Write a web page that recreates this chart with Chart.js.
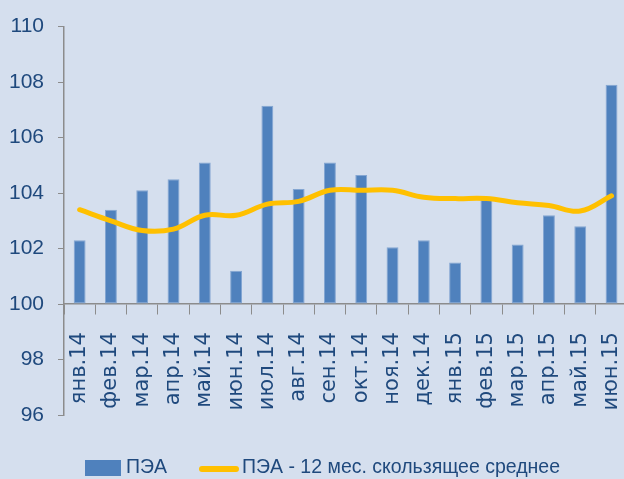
<!DOCTYPE html>
<html lang="ru">
<head>
    <meta charset="UTF-8">
    <title>ПЭА</title>
    <style>
        body {
            margin: 0;
            background: #d5dfee;
            overflow: hidden;
            font-family: "Liberation Sans", Arial, sans-serif;
            color: #1f497d;
        }
        #wrap {
            position: relative;
            width: 637px;
            height: 479px;
        }
        .legend {
            position: absolute;
            top: 455px;
            left: 0;
            font-size: 19.5px;
            white-space: nowrap;
        }
        .legend span { position: absolute; }
        .sw-bar { left: 85px; top: 5px; width: 36px; height: 16px; background: #4f81bd; }
        .sw-line { left: 199px; top: 11px; width: 40px; height: 6px; border-radius: 3px; background: #ffc000; }
        .t1 { left: 126px; top: 0; }
        .t2 { left: 242px; top: 0; }
    </style>
    <script src="https://cdn.jsdelivr.net/npm/chart.js"></script>
</head>
<body>
    <div id="wrap">
        <canvas id="chart" width="637" height="479"></canvas>
        <div class="legend">
            <span class="sw-bar"></span><span class="t1">ПЭА</span>
            <span class="sw-line"></span><span class="t2">ПЭА - 12 мес. скользящее среднее</span>
        </div>
    </div>

    <script>
        // months
        const months = ['янв.14', 'фев.14', 'мар.14', 'апр.14', 'май.14', 'июн.14',
            'июл.14', 'авг.14', 'сен.14', 'окт.14', 'ноя.14', 'дек.14',
            'янв.15', 'фев.15', 'мар.15', 'апр.15', 'май.15', 'июн.15'];

        // monthly index
        const pea = [102.3, 103.4, 104.1, 104.5, 105.1, 101.2,
            107.15, 104.15, 105.1, 104.65, 102.05, 102.3,
            101.5, 103.75, 102.15, 103.2, 102.8, 107.9];

        // 12-month moving average
        const peaAvg = [103.4, 103.0, 102.65, 102.7, 103.2, 103.2,
            103.6, 103.7, 104.1, 104.1, 104.1, 103.85,
            103.8, 103.8, 103.65, 103.55, 103.35, 103.9];

        const yTicks = [96, 98, 100, 102, 104, 106, 108, 110];

        const textColor = '#1f497d';
        const axisColor = '#8c8c8c';

        const ctx = document.getElementById('chart').getContext('2d');
        new Chart(ctx, {
            data: {
                labels: months,
                datasets: [{
                    type: 'line',
                    label: 'ПЭА - 12 мес. скользящее среднее',
                    data: peaAvg,
                    borderColor: '#ffc000',
                    borderWidth: 5,
                    borderCapStyle: 'round',
                    pointRadius: 0,
                    tension: 0.4,
                    order: 0
                }, {
                    type: 'bar',
                    label: 'ПЭА',
                    data: pea,
                    base: 100,
                    backgroundColor: '#4f81bd',
                    borderColor: '#84a6d2',
                    borderWidth: 1,
                    borderSkipped: false,
                    categoryPercentage: 1,
                    barPercentage: 0.38,
                    order: 1
                }]
            },
            options: {
                responsive: false,
                animation: false,
                layout: { autoPadding: false, padding: { top: 24, bottom: 64, left: 0, right: 3 } },
                plugins: {
                    legend: { display: false },
                    tooltip: { enabled: false }
                },
                scales: {
                    // axis line and tick marks at 100
                    x: {
                        position: { y: 100 },
                        offset: true,
                        grid: {
                            offset: true,
                            drawOnChartArea: false,
                            drawTicks: true,
                            tickLength: 10,
                            color: axisColor
                        },
                        border: { color: axisColor, width: 1.5 },
                        ticks: { display: false }
                    },
                    // month labels a bit lower
                    xLabels: {
                        type: 'category',
                        axis: 'x',
                        position: { y: 100 },
                        offset: true,
                        grid: {
                            offset: true,
                            drawOnChartArea: false,
                            drawTicks: true,
                            tickLength: 28,
                            tickColor: 'rgba(0,0,0,0)'
                        },
                        border: { display: false },
                        ticks: {
                            autoSkip: false,
                            minRotation: 90,
                            maxRotation: 90,
                            padding: 0,
                            color: textColor,
                            font: { family: 'DejaVu Sans', size: 21 }
                        }
                    },
                    y: {
                        min: 96,
                        max: 110,
                        afterFit: s => { s.width = 64; },
                        afterBuildTicks: s => { s.ticks = yTicks.map(v => ({ value: v })); },
                        grid: {
                            drawOnChartArea: false,
                            drawTicks: true,
                            tickLength: 6,
                            color: axisColor
                        },
                        border: { color: axisColor, width: 1.5 },
                        ticks: {
                            padding: 14,
                            color: textColor,
                            font: { family: 'Liberation Sans', size: 21 }
                        }
                    }
                }
            }
        });
    </script>
</body>
</html>
